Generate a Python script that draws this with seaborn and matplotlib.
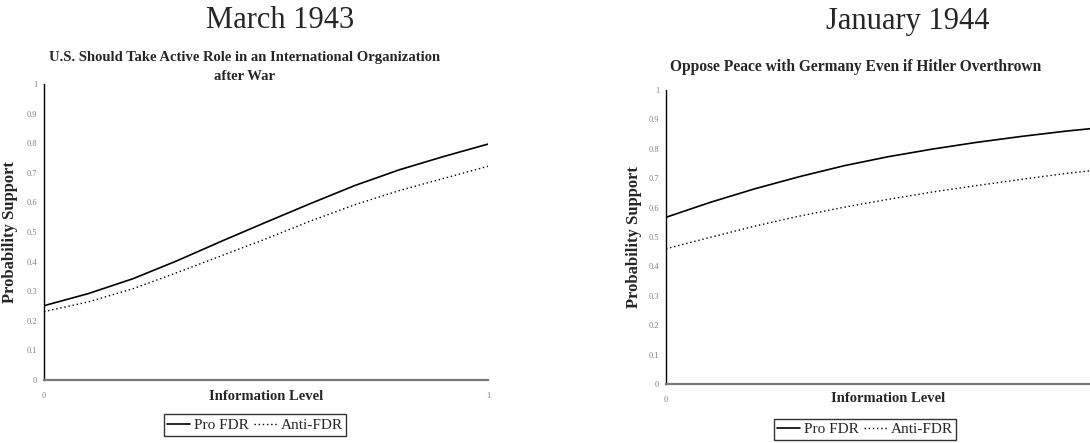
import numpy as np
import pandas as pd
import matplotlib
matplotlib.use("Agg")
import matplotlib.pyplot as plt
import seaborn as sns
from matplotlib.lines import Line2D

# information level grid (0..1)
info = [0.0, 0.1, 0.2, 0.3, 0.4, 0.5, 0.6, 0.7, 0.8, 0.9, 1.0]

# March 1943 - active role in international organization
pro_1943 = [0.251, 0.292, 0.342, 0.403, 0.469, 0.533, 0.596, 0.657, 0.71, 0.755, 0.797]
anti_1943 = [0.231, 0.264, 0.308, 0.363, 0.42, 0.477, 0.537, 0.592, 0.64, 0.681, 0.722]

# January 1944 - oppose peace with Germany
pro_1944 = [0.567, 0.618, 0.664, 0.705, 0.742, 0.773, 0.799, 0.822, 0.842, 0.86, 0.875]
anti_1944 = [0.46, 0.499, 0.537, 0.571, 0.601, 0.628, 0.653, 0.675, 0.696, 0.716, 0.733]

yticks = [0, 0.1, 0.2, 0.3, 0.4, 0.5, 0.6, 0.7, 0.8, 0.9, 1]
ytick_labels = ["0", "0.1", "0.2", "0.3", "0.4", "0.5", "0.6", "0.7", "0.8", "0.9", "1"]

sns.set_theme(style="white")
plt.rcParams["font.family"] = ["Liberation Serif", "DejaVu Serif"]

fig = plt.figure(figsize=(10.9, 4.43), dpi=100)

ax1 = fig.add_axes([44 / 1090, 1 - 380 / 443, 444 / 1090, 296 / 443])
ax2 = fig.add_axes([666 / 1090, 1 - 384 / 443, 444 / 1090, 294 / 443])


def draw_panel(ax, pro, anti, ylab_x, xlab_y, xticks):
    sns.lineplot(x=info, y=pro, ax=ax, color="black", linewidth=1.2)
    sns.lineplot(x=info, y=anti, ax=ax, color="black", linewidth=1.0, linestyle=(0, (1, 2)))
    ax.set_xlim(0, 1)
    ax.set_ylim(0, 1)
    ax.set_yticks(yticks)
    ax.set_yticklabels(ytick_labels)
    ax.set_xticks(xticks)
    ax.set_xticklabels([str(t) for t in xticks])
    ax.tick_params(axis="both", labelsize=6, labelcolor="#808080", colors="black",
                   length=3, width=0.8, direction="out", pad=2)
    ax.tick_params(axis="x", pad=7, length=2)
    for s in ["top", "right"]:
        ax.spines[s].set_visible(False)
    ax.spines["left"].set_color("black")
    ax.spines["left"].set_linewidth(1.0)
    ax.spines["bottom"].set_color("#7a7a7a")
    ax.spines["bottom"].set_linewidth(1.6)
    ax.set_ylabel("Probability Support", fontsize=12, fontweight="bold")
    ax.yaxis.set_label_coords(ylab_x, 0.5)
    ax.set_xlabel("Information Level", fontsize=10.5, fontweight="bold", va="center")
    ax.xaxis.set_label_coords(0.5, xlab_y)


draw_panel(ax1, pro_1943, anti_1943, -0.058, -0.057, [0, 1])
draw_panel(ax2, pro_1944, anti_1944, -0.054, -0.048, [0])

fig.text(280 / 1090, 1 - 20 / 443, "March 1943", ha="center", va="center", fontsize=22)
fig.text(908 / 1090, 1 - 22 / 443, "January 1944", ha="center", va="center", fontsize=22)

fig.text(245 / 1090, 1 - 67 / 443,
         "U.S. Should Take Active Role in an International Organization\nafter War",
         ha="center", va="center", fontsize=10.5, fontweight="bold", linespacing=1.7)
fig.text(856 / 1090, 1 - 67 / 443, "Oppose Peace with Germany Even if Hitler Overthrown",
         ha="center", va="center", fontsize=11.2, fontweight="bold")

handles = [Line2D([], [], color="black", linewidth=1.2),
           Line2D([], [], color="black", linewidth=1.0, linestyle=(0, (1, 2)))]
labels = ["Pro FDR", "Anti-FDR"]

for cx, cy in [(255 / 1090, 1 - 425 / 443), (865 / 1090, 1 - 429.5 / 443)]:
    leg = fig.legend(handles, labels, loc="center", bbox_to_anchor=(cx, cy), ncol=2,
                     frameon=True, fancybox=False, fontsize=11, handlelength=1.5,
                     handletextpad=0.25, columnspacing=0.3, borderpad=0.25,
                     borderaxespad=0)
    leg.get_frame().set_edgecolor("black")
    leg.get_frame().set_linewidth(1.0)

fig.savefig("out.png", dpi=100)
